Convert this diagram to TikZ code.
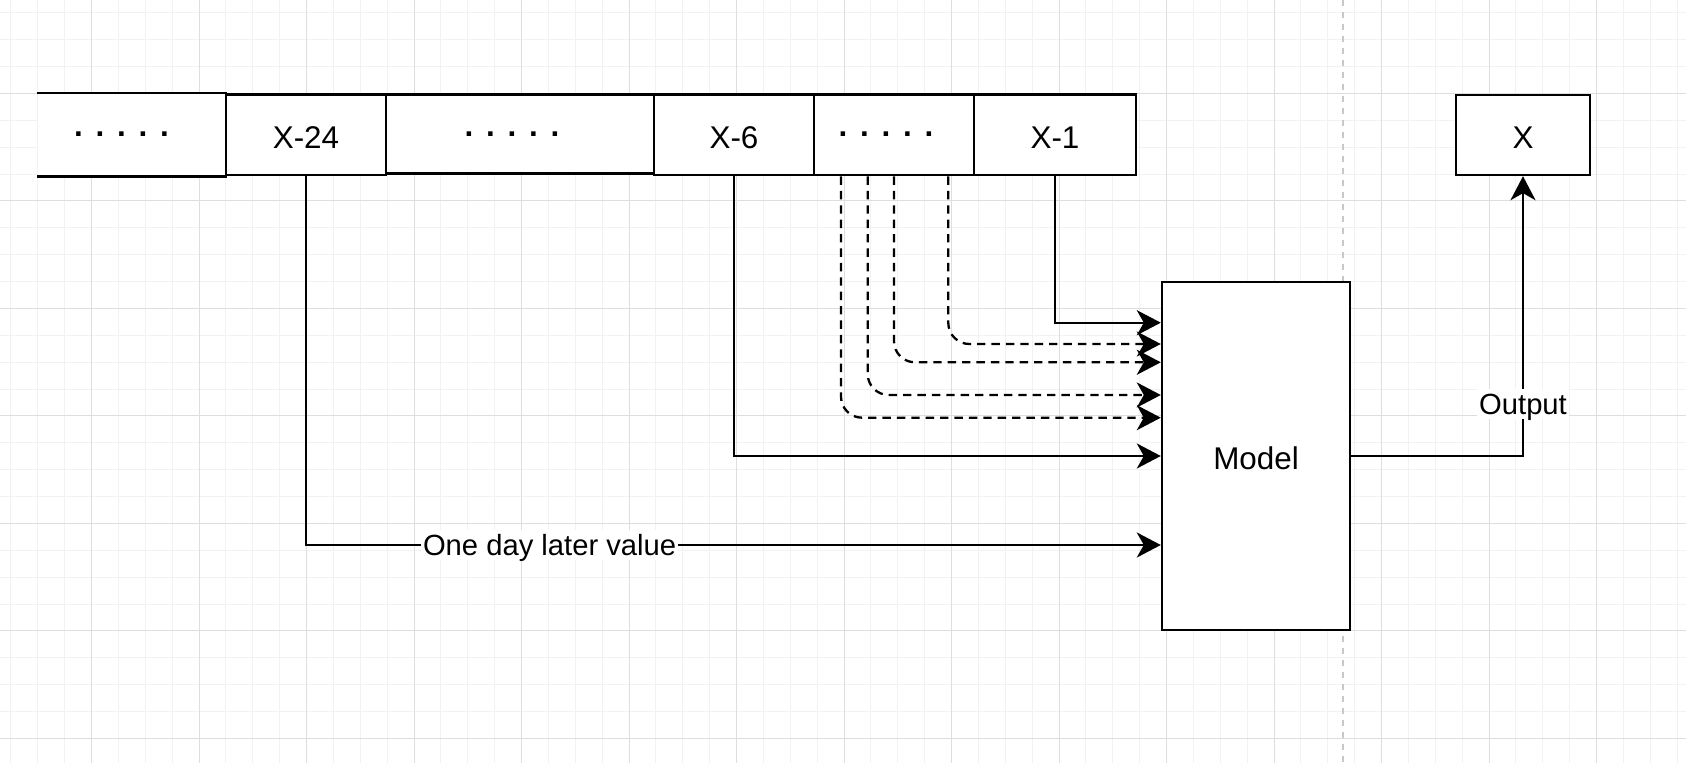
\documentclass[tikz,border=0pt]{standalone}
\usepackage{fontspec}
\setmainfont{Liberation Sans}
\usetikzlibrary{arrows.meta}
\newcommand{\dotcellx}{\makebox[10.75pt]{\textbf{.}}}
\definecolor{gridminor}{RGB}{242,242,242}
\definecolor{gridmajor}{RGB}{222,222,222}
\definecolor{pagebreak}{RGB}{200,200,200}
\begin{document}
\begin{tikzpicture}[x=0.5pt,y=-0.5pt,
  every node/.style={font=\fontsize{15.7pt}{18pt}\selectfont},
  cell/.style={draw=black, fill=white, line width=1.2pt, inner sep=0pt, text height=14pt, text depth=0pt},
  conn/.style={line width=1.15pt, -{Stealth[length=12pt,width=12.5pt,inset=3.5pt]}},
  dconn/.style={conn, dash pattern=on 4.2pt off 3pt, rounded corners=10.5pt},
  lbl/.style={fill=white, inner sep=1pt, text height=11.5pt, text depth=1.2pt, font=\fontsize{14.6pt}{17pt}\selectfont},
  dotrow/.style={inner sep=0pt, anchor=base},
  minorline/.style={draw=gridminor, line width=0.5pt},
  majorline/.style={draw=gridmajor, line width=0.5pt},
]
\useasboundingbox (0,0) rectangle (1686,763);
\fill[white] (0,0) rectangle (1686,763);
% grid
\foreach \i in {0,...,62} {
  \pgfmathsetmacro{\gx}{10.875+\i*26.875}
  \draw[minorline] (\gx,0) -- (\gx,763);
}
\foreach \j in {0,...,28} {
  \pgfmathsetmacro{\gy}{12.875+\j*26.875}
  \draw[minorline] (0,\gy) -- (1686,\gy);
}
\foreach \i in {0,...,15} {
  \pgfmathsetmacro{\gx}{91.5+(\i-1)*107.5}
  \draw[majorline] (\gx,0) -- (\gx,763);
}
\foreach \j in {0,...,7} {
  \pgfmathsetmacro{\gy}{93.5+(\j-1)*107.5}
  \draw[majorline] (0,\gy) -- (1686,\gy);
}
\draw[pagebreak, line width=0.6pt, dash pattern=on 3pt off 3pt] (1343,0) -- (1343,763);

% top row
\node[cell, draw=none, minimum width=94pt, minimum height=40.4pt] (b1) at (132,134.9) {};
\draw[line width=1.2pt] (b1.north west) -- (b1.north east) (b1.south west) -- (b1.south east);
\node[cell, minimum width=134pt, minimum height=39.6pt] (b3) at (520,134.1) {};
\node[cell, minimum width=80pt, minimum height=40.4pt] (x24) at (306,134.9) {X-24};
\node[cell, minimum width=80pt, minimum height=40.4pt] (x6) at (734,134.9) {X-6};
\node[cell, minimum width=80pt, minimum height=40.4pt] (b5) at (894,134.9) {};
\node[cell, minimum width=81pt, minimum height=40.4pt] (x1) at (1055,134.9) {X-1};
\node[dotrow] (d1) at (121.5,136.2) {\dotcellx\dotcellx\dotcellx\dotcellx\dotcellx};
\node[dotrow] (d3) at (512,136.2) {\dotcellx\dotcellx\dotcellx\dotcellx\dotcellx};
\node[dotrow] (d5) at (886,136.2) {\dotcellx\dotcellx\dotcellx\dotcellx\dotcellx};

\node[cell, minimum width=67pt, minimum height=40pt] (xout) at (1523,135) {X};
\node[cell, minimum width=94pt, minimum height=174pt] (model) at (1256,456) {Model};

% connectors
\draw[conn] (x1.south) |- ([yshift=66.65pt]model.west);
\draw[dconn] ([xshift=27.15pt]b5.south) |- ([yshift=56pt]model.west);
\draw[dconn] (b5.south) |- ([yshift=46.85pt]model.west);
\draw[dconn] ([xshift=-13.15pt]b5.south) |- ([yshift=30.5pt]model.west);
\draw[dconn] ([xshift=-26.5pt]b5.south) |- ([yshift=19.15pt]model.west);
\draw[conn] (x6.south) |- (model.west);
\draw[conn] (x24.south) |- node[lbl, pos=0.6425] (lday) {One day later value} ([yshift=-44.5pt]model.west);
\draw[conn] (model.east) -| node[lbl, pos=0.593] (lout) {Output} (xout.south);
\end{tikzpicture}
\end{document}
